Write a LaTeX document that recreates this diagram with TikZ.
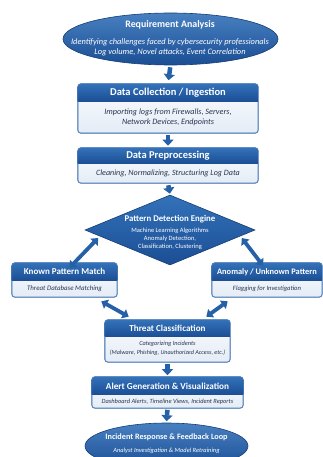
\documentclass[tikz,border=0pt]{standalone}
\usepackage{fontspec}
\setmainfont{Carlito}
\usetikzlibrary{arrows.meta,shapes.geometric,calc}
\definecolor{hdrtop}{HTML}{3372BA}
\definecolor{hdrbot}{HTML}{1B4E94}
\definecolor{bodytop}{HTML}{FBFCFE}
\definecolor{bodybot}{HTML}{E4ECF6}
\definecolor{bordc}{HTML}{4F7DB8}
\definecolor{arrc}{HTML}{2461A9}
\definecolor{txtc}{HTML}{26344F}
\tikzset{
  panel/.style={inner sep=0pt, rounded corners=3pt, top color=bodytop, bottom color=bodybot, draw=bordc, line width=0.6pt},
  oval/.style={ellipse, inner sep=0pt, top color=hdrtop!90!white, bottom color=hdrbot, draw=hdrbot!80!black, line width=0.6pt},
  diam/.style={diamond, inner sep=0pt, top color=hdrtop, bottom color=hdrbot, draw=hdrbot!80!black, line width=0.6pt},
  ttl/.style={text=white, font=\bfseries\fontsize{#1}{#1}\selectfont, inner sep=0pt},
  ttl/.default=8.5,
  subw/.style={text=white, font=\itshape\fontsize{#1}{#1}\selectfont, inner sep=0pt, align=center},
  subd/.style={text=txtc, font=\itshape\fontsize{#1}{#1}\selectfont, inner sep=0pt, align=center},
  downarr/.style={arrc, line width=4.5pt, -{Triangle[width=11pt,length=6pt]}},
  duoarr/.style={arrc, line width=3.8pt, {Triangle[width=10pt,length=6pt]}-{Triangle[width=10pt,length=6pt]}},
}
% #1 name, #2 left, #3 top, #4 right, #5 bottom, #6 header height
\newcommand\panelbox[6]{%
  \node[panel, minimum width={(#4-#2)*1pt}, minimum height={(#5-#3)*1pt}] (#1) at ({(#2+#4)/2}, {-(#3+#5)/2}) {};
  \begin{scope}
    \clip[rounded corners=3pt] (#1.south west) rectangle (#1.north east);
    \shade[top color=hdrtop, bottom color=hdrbot] (#1.north west) rectangle ($(#1.north east)+(0,-#6)$);
  \end{scope}
  \draw[bordc, line width=0.6pt, rounded corners=3pt] (#1.south west) rectangle (#1.north east);
}
\begin{document}
\begin{tikzpicture}[x=1pt,y=1pt]
\useasboundingbox (0,0) rectangle (323,-457);
\clip (0,0) rectangle (323,-457);
\fill[white] (0,0) rectangle (323,-457);

% top ellipse
\node[oval, minimum width=215pt, minimum height=52pt] (req) at (170.5,-39) {};
\node[ttl=9.9] (req-t) at (170,-25) {Requirement Analysis};
\node[subw=8.4] (req-s) at (170,-47.5) {Identifying challenges faced by cybersecurity professionals\\[1.7pt]Log volume, Novel attacks, Event Correlation};

% data collection
\panelbox{dc}{78}{84}{258}{133}{18}
\node[ttl=10.5] (dc-t) at (168,-93) {Data Collection / Ingestion};
\node[subd=8.2] (dc-s) at (168,-117.5) {Importing logs from Firewalls, Servers,\\[1.2pt]Network Devices, Endpoints};

% preprocessing
\panelbox{pp}{78}{148}{258}{183}{16}
\node[ttl=10.5] (pp-t) at (168,-156) {Data Preprocessing};
\node[subd=8.1] (pp-s) at (168,-173.5) {Cleaning, Normalizing, Structuring Log Data};

% diamond
\node[diam, minimum width=170pt, minimum height=70pt] (pde) at (170,-230) {};
\node[ttl=8.8] (pde-t) at (170,-219) {Pattern Detection Engine};
\node[subw=6.5, font=\fontsize{6.5}{8}\selectfont] (pde-s) at (170,-239.3) {Machine Learning Algorithms\\Anomaly Detection,\\Classification, Clustering};

% known pattern
\panelbox{kp}{12}{263}{117}{297}{17.5}
\node[ttl=9] (kp-t) at (64.5,-271.8) {Known Pattern Match};
\node[subd=6.9] (kp-s) at (64.5,-289) {Threat Database Matching};

% anomaly
\panelbox{an}{212}{263}{322}{297}{17.5}
\node[ttl=8.4] (an-t) at (267,-271.8) {Anomaly / Unknown Pattern};
\node[subd=6.6] (an-s) at (267,-289) {Flagging for Investigation};

% threat classification
\panelbox{tc}{105}{320}{230}{362}{17}
\node[ttl=9.1] (tc-t) at (167.5,-328.8) {Threat Classification};
\node[subd=6.3] (tc-s1) at (167.5,-344) {Categorizing Incidents};
\node[subd=6.1] (tc-s2) at (167.5,-353) {(Malware, Phishing, Unauthorized Access, etc.)};

% alert
\panelbox{al}{92}{377}{243}{408}{18}
\node[ttl=9.2] (al-t) at (167.5,-386) {Alert Generation \& Visualization};
\node[subd=6.4] (al-s) at (167.5,-401.5) {Dashboard Alerts, Timeline Views, Incident Reports};

% bottom ellipse
\node[oval, minimum width=163pt, minimum height=46pt] (ir) at (166.5,-446) {};
\node[ttl=8.2] (ir-t) at (166.5,-437) {Incident Response \& Feedback Loop};
\node[subw=6.4] (ir-s) at (166.5,-450.5) {Analyst Investigation \& Model Retraining};

% arrows
\draw[downarr, shorten <=2pt, shorten >=3.5pt] (req.south) -- (dc.north);
\draw[downarr, shorten <=2pt, shorten >=2pt] (dc.south) -- (pp.north);
\draw[downarr, shorten <=2pt, shorten >=1pt] (pp.south) -- (pde.north);
\draw[downarr, shorten <=1.5pt, shorten >=1.5pt] (tc.south) -- (al.north);
\draw[downarr, shorten <=1.5pt, shorten >=1.5pt] (al.south) -- (ir.north);

\draw[duoarr] ($(pde.west)!0.17!(pde.south)+(-1,-2)$) -- ($(kp.north)+(5,-5)$);
\draw[duoarr] ($(pde.east)!0.17!(pde.south)+(1,-2)$) -- ($(an.north)+(-4,-3)$);
\draw[duoarr] ($(kp.south east)+(-16,-4)$) -- ($(tc.north west)+(24,3)$);
\draw[duoarr] ($(an.south west)+(16,-4)$) -- ($(tc.north east)+(-24,3)$);
\end{tikzpicture}
\end{document}
